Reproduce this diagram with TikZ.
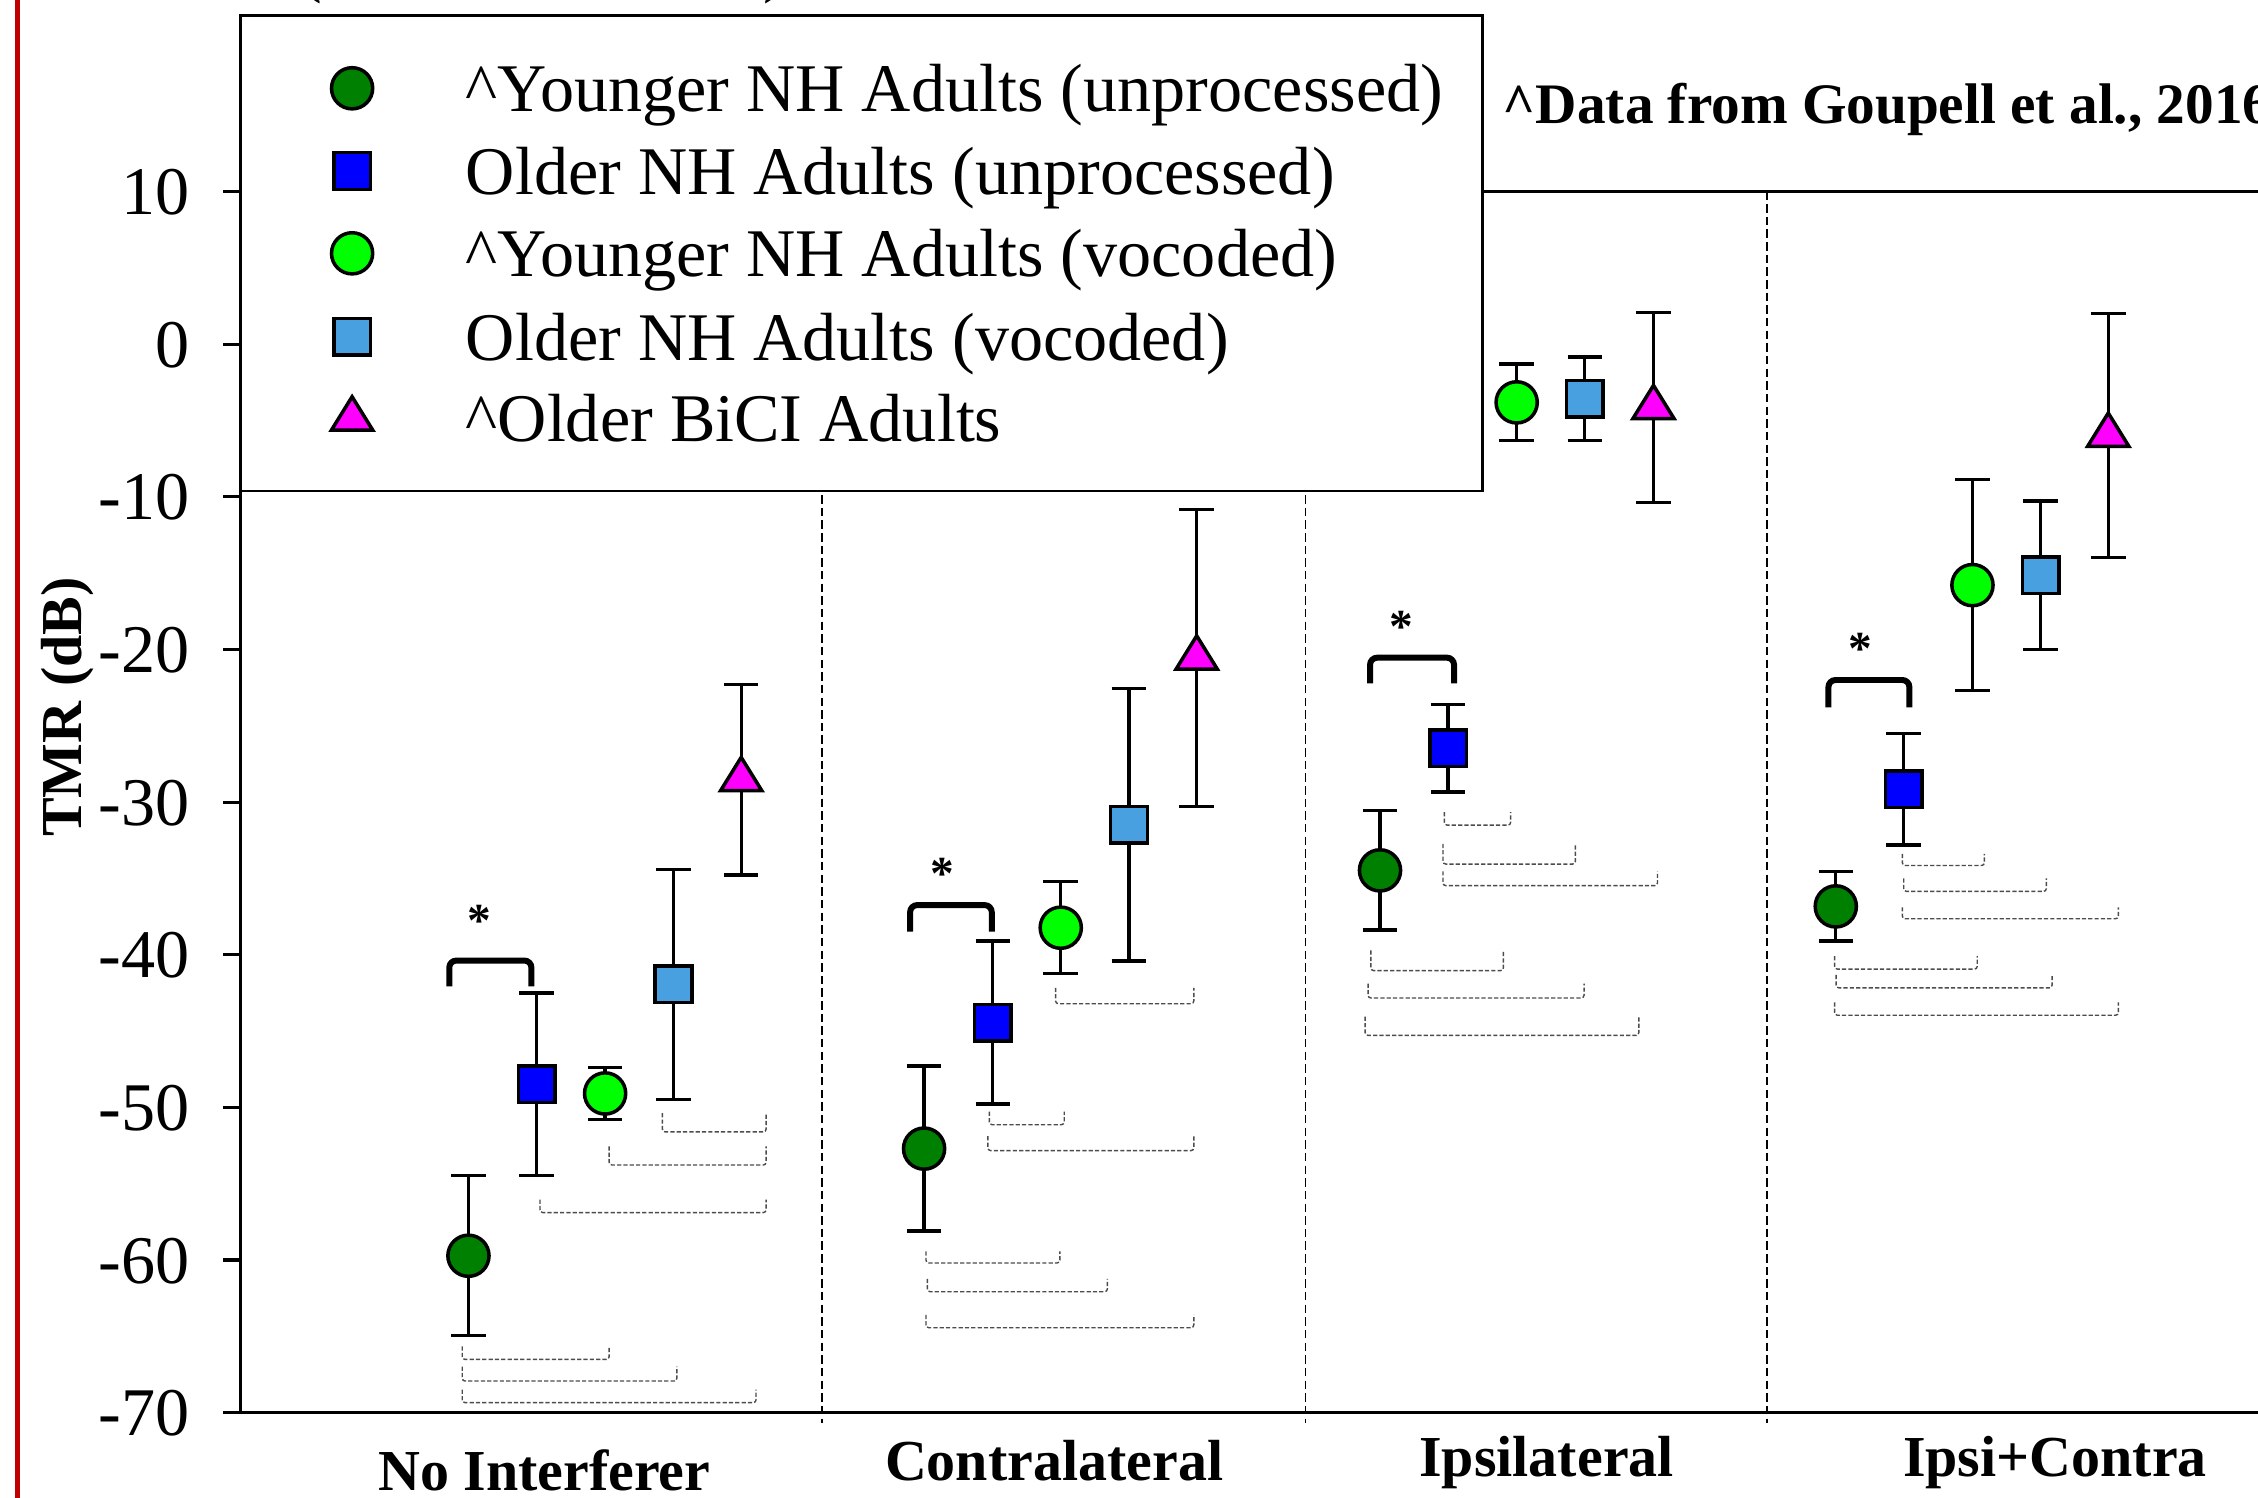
\documentclass[tikz,border=0pt]{standalone}
\usepackage{fontspec}
\setmainfont{Liberation Serif}
\definecolor{dkgreen}{RGB}{0,128,0}
\definecolor{ltgreen}{RGB}{0,255,0}
\definecolor{ltblue}{RGB}{72,160,224}
\definecolor{magen}{RGB}{255,0,255}
\definecolor{blu}{RGB}{0,0,255}
\definecolor{redline}{RGB}{192,0,0}
\newcommand\errbar[3]{\draw[ebarst] (#1,#2-#3) -- (#1,#2+#3) (#1-12,#2-#3) -- (#1+12,#2-#3) (#1-12,#2+#3) -- (#1+12,#2+#3);}
\newcommand\mkcirc[3]{\draw[mk,fill=#3] (#1,#2) circle[radius=14.3];}
\newcommand\mksq[3]{\draw[mk,fill=#3] (#1-12.7,#2-12.7) rectangle (#1+12.7,#2+12.7);}
\newcommand\mktri[3]{\draw[mk,fill=#3] (#1,#2-15.5) -- (#1+14.3,#2+7.6) -- (#1-14.3,#2+7.6) -- cycle;}
\newcommand\pairbr[4]{\draw[pair] (#1,#3) -- (#1,#4) -- (#2,#4) -- (#2,#3);}
\newcommand\sigbr[4]{\draw[sig] (#1,#4) -- (#1,#3) -- (#2,#3) -- (#2,#4);}
\begin{document}
\begin{tikzpicture}[x=0.0144cm,y=-0.0144cm,
  ebarst/.style={line width=0.95pt},
  mk/.style={line width=1pt,draw=black,line join=miter},
  sig/.style={line width=1.7pt,rounded corners=2pt},
  pair/.style={line width=0.4pt,draw=black!70,dash pattern=on 1.2pt off 0.6pt,rounded corners=0.8pt},
  sepln/.style={line width=0.45pt,dash pattern=on 2.4pt off 1.2pt},
  axisln/.style={line width=0.9pt},
  ticklab/.style={anchor=base east,inner sep=0pt,font=\fontsize{19.4}{22}\selectfont},
  leglab/.style={anchor=base west,inner sep=0pt,font=\fontsize{19.4}{22}\selectfont},
  catlab/.style={anchor=base,inner sep=0pt,font=\fontsize{16.5}{19}\selectfont\bfseries},
  sigstar/.style={anchor=base,inner sep=0pt,font=\fontsize{13.5}{15}\selectfont\bfseries},
]
\useasboundingbox (0,0) rectangle (1568,1040);
\fill[white] (0,0) rectangle (1568,1040);

% red line at left
\draw[redline,line width=1.4pt] (12,-5) -- (12,1045);

% cut-off fragments at the top
\node[anchor=base,inner sep=0pt,font=\fontsize{19.4}{22}\selectfont] (fragl) at (216,-7.5) {(};
\node[anchor=base,inner sep=0pt,font=\fontsize{19.4}{22}\selectfont] (fragr) at (538,-7.5) {)};

% separators
\foreach \sx in {571,906.5,1227} \draw[sepln] (\sx,133) -- (\sx,988);

% frame
\draw[axisln] (167,133) -- (1585,133);
\draw[axisln] (167,133) -- (167,981);
\draw[axisln] (155,981) -- (1585,981);
\foreach \t/\yy in {10/133,0/239,-10/345,-20/451,-30/557,-40/663,-50/769,-60/875,-70/981}{
  \draw[axisln] (155,\yy) -- (167,\yy);
  \node[ticklab] (tick\t) at (132,\yy+16) {\t};
}

% pairwise dashed brackets
% Group 1
\pairbr{460}{532}{773}{786}
\pairbr{423}{532}{796}{809}
\pairbr{375}{532}{833}{842}
\pairbr{321}{423}{935}{944}
\pairbr{321}{470}{949}{959}
\pairbr{321}{525}{965}{974}
% Group 2
\pairbr{733}{829}{686}{697}
\pairbr{687}{739}{772}{781}
\pairbr{686}{829}{789}{799}
\pairbr{643}{736}{869}{877}
\pairbr{644}{769}{888}{897}
\pairbr{643}{829}{913}{922}
% Group 3
\pairbr{1003}{1049}{564}{573}
\pairbr{1002}{1094}{586}{600}
\pairbr{1002}{1151}{605}{615}
\pairbr{952}{1044}{660}{674}
\pairbr{950}{1100}{683}{693}
\pairbr{948}{1138}{706}{719}
% Group 4
\pairbr{1321}{1378}{593}{601}
\pairbr{1322}{1421}{610}{619}
\pairbr{1321}{1471}{630}{638}
\pairbr{1274}{1373}{664}{673}
\pairbr{1275}{1425}{677}{686}
\pairbr{1274}{1471}{696}{705}

% Group 1: No Interferer
\errbar{325.3}{872}{55.5}\mkcirc{325.3}{872}{dkgreen}
\errbar{372.7}{753}{63.5}\mksq{372.7}{753}{blu}
\errbar{420.2}{759.3}{18}\mkcirc{420.2}{759.3}{ltgreen}
\errbar{467.7}{683.5}{79.8}\mksq{467.7}{683.5}{ltblue}
\errbar{514.7}{541.4}{66.2}\mktri{514.7}{541.4}{magen}
% Group 2: Contralateral
\errbar{641.7}{797.6}{57.3}\mkcirc{641.7}{797.6}{dkgreen}
\errbar{689.4}{710.1}{56.6}\mksq{689.4}{710.1}{blu}
\errbar{736.6}{644.2}{31.9}\mkcirc{736.6}{644.2}{ltgreen}
\errbar{784}{572.7}{94.7}\mksq{784}{572.7}{ltblue}
\errbar{831}{457}{103}\mktri{831}{457}{magen}
% Group 3: Ipsilateral
\errbar{958.3}{604.4}{41.4}\mkcirc{958.3}{604.4}{dkgreen}
\errbar{1005.6}{519.5}{30.4}\mksq{1005.6}{519.5}{blu}
\errbar{1053.2}{279.4}{26.6}\mkcirc{1053.2}{279.4}{ltgreen}
\errbar{1100.5}{277}{29}\mksq{1100.5}{277}{ltblue}
\errbar{1148.2}{283.1}{66}\mktri{1148.2}{283.1}{magen}
% Group 4: Ipsi+Contra
\errbar{1274.8}{629.4}{24.1}\mkcirc{1274.8}{629.4}{dkgreen}
\errbar{1322}{548}{38.7}\mksq{1322}{548}{blu}
\errbar{1369.7}{406.3}{73.4}\mkcirc{1369.7}{406.3}{ltgreen}
\errbar{1417.1}{399.5}{51.5}\mksq{1417.1}{399.5}{ltblue}
\errbar{1464}{302.3}{84.7}\mktri{1464}{302.3}{magen}

% significance brackets
\sigbr{312}{369}{667}{685}
\sigbr{632}{688.7}{628.5}{647}
\sigbr{951.4}{1009.7}{456.7}{474.5}
\sigbr{1269.7}{1325.9}{472.2}{491.2}
\node[sigstar] (s1) at (333,634+16) {*};
\node[sigstar] (s2) at (654.6,602+16) {*};
\node[sigstar] (s3) at (973.4,430+16) {*};
\node[sigstar] (s4) at (1291.7,445.6+16) {*};

% axis titles
\node[catlab,rotate=90] (ytitle) at (56.7,491) {TMR (dB)};
\node[catlab] (c1) at (378,1034.7) {No Interferer};
\node[catlab] (c2) at (732,1028) {Contralateral};
\node[catlab] (c3) at (1074,1025.5) {Ipsilateral};
\node[catlab] (c4) at (1427,1025.5) {Ipsi+Contra};

\node[anchor=base west,inner sep=0pt,font=\fontsize{16.3}{18}\selectfont\bfseries] (src) at (1043,85.6) {\textasciicircum Data from Goupell et al., 2016};

% legend
\draw[line width=0.8pt,fill=white] (167,10.9) rectangle (1029.6,341);
\mkcirc{244.5}{61.3}{dkgreen}
\mksq{244.5}{118.75}{blu}
\mkcirc{244.5}{175.9}{ltgreen}
\mksq{244.5}{233.8}{ltblue}
\mktri{244.5}{291}{magen}
\node[leglab] (l1) at (323,77.5) {\textasciicircum Younger NH Adults (unprocessed)};
\node[leglab] (l2) at (323,135) {Older NH Adults (unprocessed)};
\node[leglab] (l3) at (323,192.1) {\textasciicircum Younger NH Adults (vocoded)};
\node[leglab] (l4) at (323,250) {Older NH Adults (vocoded)};
\node[leglab] (l5) at (323,306.7) {\textasciicircum Older BiCI Adults};
\end{tikzpicture}
\end{document}
